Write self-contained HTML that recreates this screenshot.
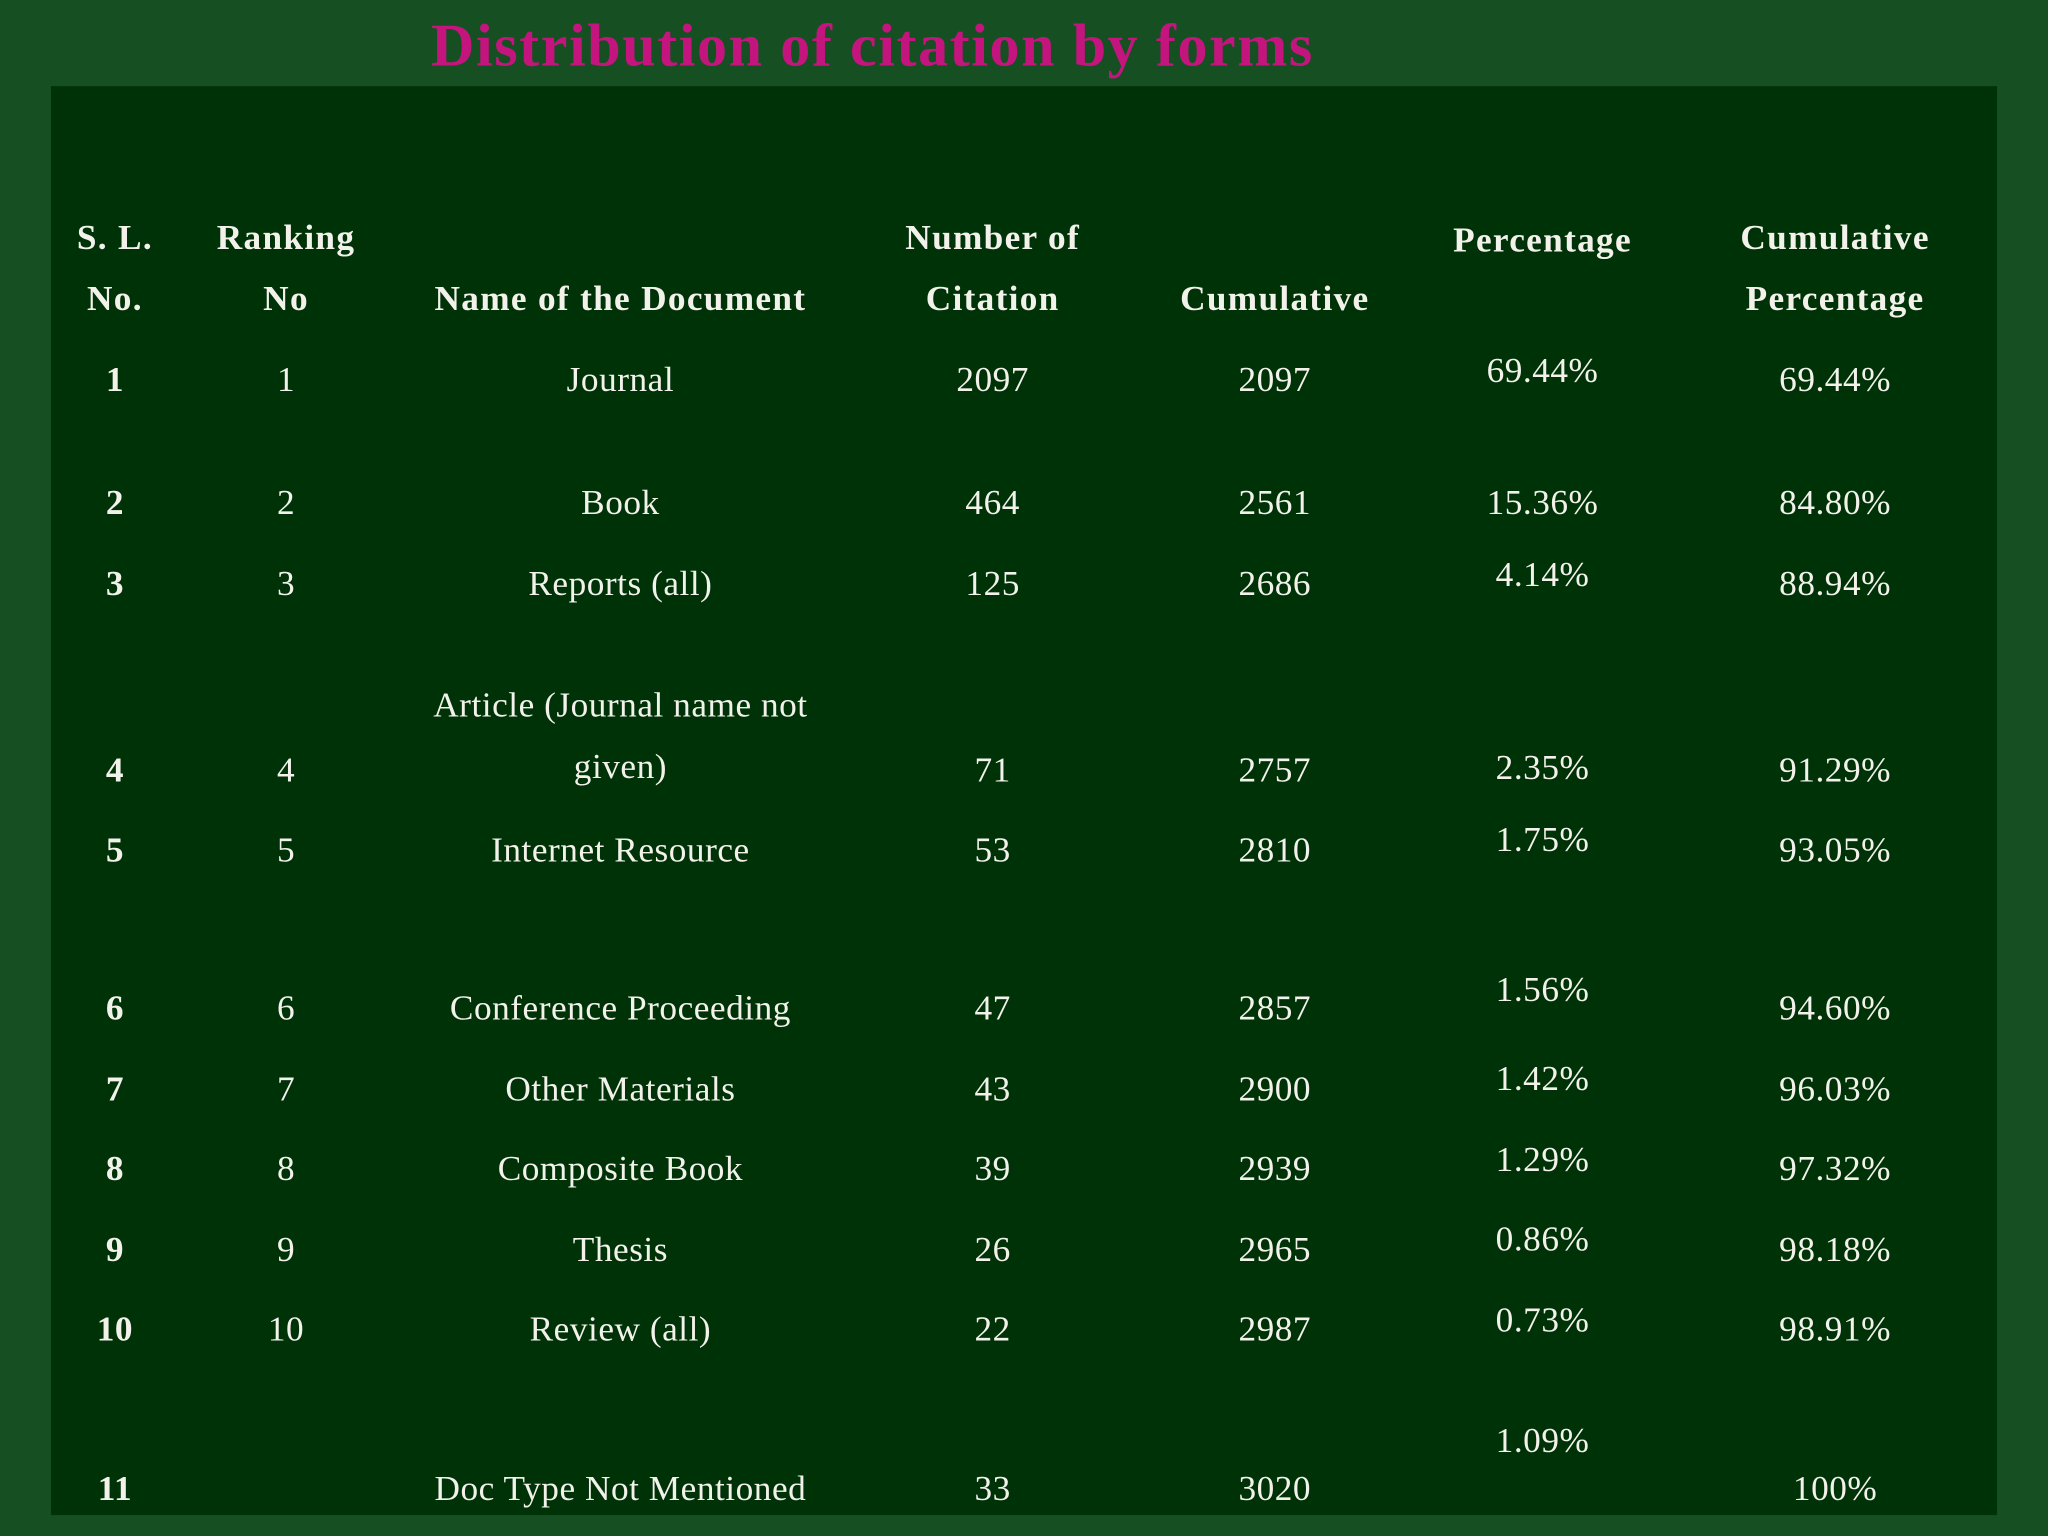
<!DOCTYPE html>
<html><head><meta charset="utf-8">
<style>
html,body{margin:0;padding:0;}
body{width:2048px;height:1536px;overflow:hidden;background:#154f22;}
#stage{position:absolute;left:0;top:0;width:1568px;height:1176px;transform:scale(1.30612);transform-origin:0 0;font-family:"Liberation Serif",serif;}
#panel{position:absolute;left:39px;top:66px;width:1490px;height:1094px;background:#003208;}
#title{position:absolute;left:330px;top:8px;font-size:46px;letter-spacing:1.2px;font-weight:bold;color:#c4157f;white-space:nowrap;}
.t{position:absolute;transform:translate(-50%,-50%);color:#f2f2ea;font-size:27px;letter-spacing:0.4px;white-space:nowrap;}
.h{font-weight:bold;font-size:27px;letter-spacing:1px;}
.b{font-weight:bold;}
</style></head><body>
<div id="stage">
<div id="title">Distribution of citation by forms</div>
<div id="panel"></div>
</div>
<script>
const colX=[88,219,475,760,976,1181,1405];
const headers=[["S. L.",182],["No.",229],["Ranking",182],["No",229],["Name of the Document",229],["Number of",182],["Citation",229],["Cumulative",229],["Percentage",184],["Cumulative",182],["Percentage",229]];
const headerCols=[0,0,1,1,2,3,3,4,5,6,6];
const slNo=["1","2","3","4","5","6","7","8","9","10","11"];
const ranks=["1","2","3","4","5","6","7","8","9","10",""];
const names=["Journal","Book","Reports (all)","Article (Journal name not|given)","Internet Resource","Conference Proceeding","Other Materials","Composite Book","Thesis","Review (all)","Doc Type Not Mentioned"];
const citations=["2097","464","125","71","53","47","43","39","26","22","33"];
const cumulative=["2097","2561","2686","2757","2810","2857","2900","2939","2965","2987","3020"];
const percents=["69.44%","15.36%","4.14%","2.35%","1.75%","1.56%","1.42%","1.29%","0.86%","0.73%","1.09%"];
const cumPercents=["69.44%","84.80%","88.94%","91.29%","93.05%","94.60%","96.03%","97.32%","98.18%","98.91%","100%"];
const rowY=[291,385,447,590,651,772,834,895,957,1018,1140];
const pctY=[284,385,440,588,643,758,826,888,949,1011,1103];
const stage=document.getElementById('stage');
function put(txt,x,y,cls,name){
  const d=document.createElement('div');
  d.className='t '+cls;
  d.textContent=txt;
  d.style.left=x+'px';d.style.top=y+'px';
  
  
  stage.appendChild(d);
}
headers.forEach((h,i)=>put(h[0],colX[headerCols[i]],h[1],'h','column-header'));
for(let i=0;i<slNo.length;i++){
  const y=rowY[i];
  put(slNo[i],colX[0],y,'b','serial-number-cell');
  put(ranks[i],colX[1],y,'','ranking-cell');
  const parts=names[i].split('|');
  if(parts.length>1){put(parts[0],colX[2],540,'','document-name-cell');put(parts[1],colX[2],587,'','document-name-cell');}
  else put(parts[0],colX[2],y,'','document-name-cell');
  put(citations[i],colX[3],y,'','citation-count-cell');
  put(cumulative[i],colX[4],y,'','cumulative-cell');
  put(percents[i],colX[5],pctY[i],'','percentage-cell');
  put(cumPercents[i],colX[6],y,'','cumulative-percentage-cell');
}
</script>
</body></html>
